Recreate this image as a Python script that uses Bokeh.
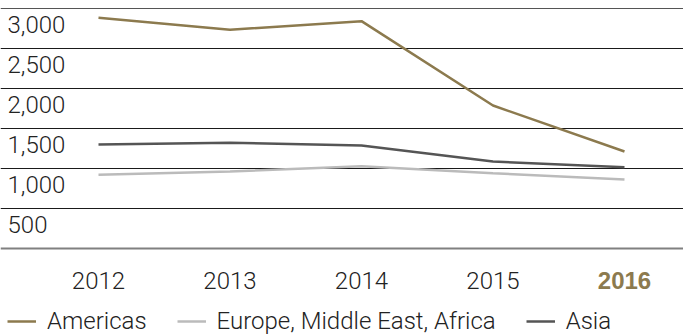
from bokeh.plotting import figure
from bokeh.models import Range1d, FixedTicker, Span, Legend, LegendItem
from bokeh.core.properties import value
from bokeh.embed import file_html
from bokeh.resources import INLINE

# Regional figures by year
years = [2012, 2013, 2014, 2015, 2016]
year_labels = ["2012", "2013", "2014", "2015", "2016"]
americas = [2884, 2734, 2842, 1787, 1212]
emea = [921, 962, 1029, 941, 862]
asia = [1300, 1321, 1287, 1087, 1016]

y_ticks = [500, 1000, 1500, 2000, 2500, 3000]
y_tick_labels = ["500", "1,000", "1,500", "2,000", "2,500", "3,000"]

GOLD = "#8c7a4e"
DARK = "#555555"
LIGHT = "#bbbbbb"
TEXT = "#222222"
FONT_NAME = "'Roboto Light', 'Liberation Sans', sans-serif"
FONT = value(FONT_NAME)

W, H = 683, 336

p = figure(
    width=W, height=H,
    output_backend="svg", toolbar_location=None,
    x_range=Range1d(2011.2548, 2016.4487),
    y_range=Range1d(-1100, 3100),
    x_axis_location=None, y_axis_location=None,
    min_border=0, outline_line_color=None,
)
p.xgrid.visible = False
p.ygrid.ticker = FixedTicker(ticks=y_ticks[:-1])
p.ygrid.grid_line_color = "#1a1a1a"
p.ygrid.grid_line_width = 1

# top and baseline rules
p.add_layout(Span(location=y_ticks[-1], dimension="width",
                  line_color="#555555", line_width=1))
p.add_layout(Span(location=0, dimension="width",
                  line_color="#808080", line_width=2))

# value labels hang just under their rule, at the left edge
p.text(x=[p.x_range.start] * len(y_ticks), y=y_ticks, text=y_tick_labels,
       x_offset=7, y_offset=16, text_align="left", text_baseline="alphabetic",
       text_font=FONT, text_font_size="24px", text_color=TEXT)

# year labels under the baseline; the latest year is highlighted
p.text(x=years[:-1], y=[0] * 4, text=year_labels[:-1],
       y_offset=32, text_align="center", text_baseline="alphabetic",
       text_font=FONT, text_font_size="24px", text_color=TEXT)
p.text(x=years[-1:], y=[0], text=year_labels[-1:],
       y_offset=32, text_align="center", text_baseline="alphabetic",
       text_font=value("'Liberation Sans', sans-serif"), text_font_size="24px",
       text_font_style="bold", text_color=GOLD)

r_am = p.line(years, americas, line_color=GOLD, line_width=2.5)
r_eu = p.line(years, emea, line_color=LIGHT, line_width=2.5)
r_as = p.line(years, asia, line_color=DARK, line_width=2.5)

legend = Legend(
    items=[LegendItem(label="Americas", renderers=[r_am]),
           LegendItem(label="Europe, Middle East, Africa", renderers=[r_eu]),
           LegendItem(label="Asia", renderers=[r_as])],
    orientation="horizontal", location=(7, 1),
    margin=0, padding=0, spacing=30,
    glyph_width=29, glyph_height=20, label_height=20, label_standoff=11,
    label_text_font=FONT_NAME, label_text_font_size="24px", label_text_color=TEXT,
    border_line_color=None, background_fill_alpha=0,
)
p.add_layout(legend)

open("out.html", "w").write(file_html(p, INLINE))
